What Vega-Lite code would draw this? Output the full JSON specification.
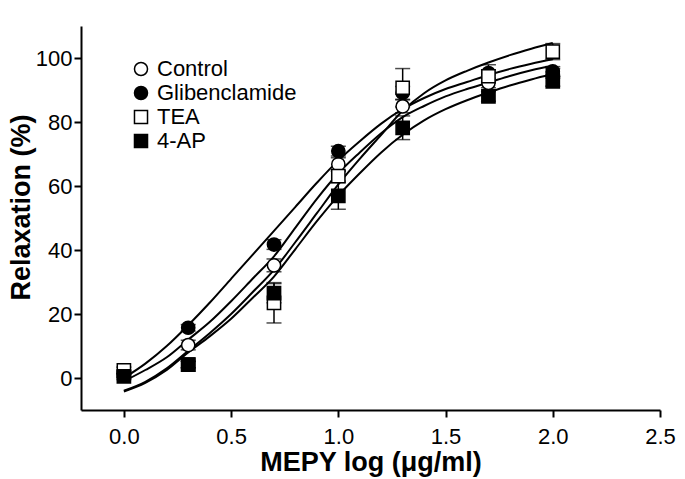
{
  "$schema": "https://vega.github.io/schema/vega-lite/v6.json",
  "width": 579,
  "height": 384,
  "autosize": "none",
  "padding": {"left": 81, "top": 26, "right": 25, "bottom": 69},
  "background": "white",
  "config": {
    "view": {"stroke": null},
    "font": "Liberation Sans",
    "axis": {
      "grid": false,
      "domainColor": "black",
      "domainWidth": 2,
      "tickColor": "black",
      "tickWidth": 2,
      "tickSize": 7,
      "labelFont": "Liberation Sans",
      "labelFontSize": 22,
      "labelColor": "black",
      "labelFlush": false,
      "labelOverlap": false,
      "titleFont": "Liberation Sans",
      "titleFontSize": 27,
      "titleFontWeight": "bold",
      "titleColor": "black"
    },
    "legend": {
      "orient": "none",
      "legendX": 49,
      "legendY": 32,
      "padding": 0,
      "labelFont": "Liberation Sans",
      "labelFontSize": 22,
      "labelColor": "black",
      "labelOffset": 5,
      "rowPadding": 2,
      "symbolStrokeWidth": 1.5,
      "symbolSize": 170
    }
  },
  "datasets": {
    "curves": [
      {"group": "Glibenclamide", "x": 0.0, "y": 0},
      {"group": "Glibenclamide", "x": 0.1, "y": 4.5},
      {"group": "Glibenclamide", "x": 0.2, "y": 10},
      {"group": "Glibenclamide", "x": 0.3, "y": 16.5},
      {"group": "Glibenclamide", "x": 0.4, "y": 23.5},
      {"group": "Glibenclamide", "x": 0.5, "y": 31},
      {"group": "Glibenclamide", "x": 0.6, "y": 38.5},
      {"group": "Glibenclamide", "x": 0.7, "y": 46},
      {"group": "Glibenclamide", "x": 0.8, "y": 53.5},
      {"group": "Glibenclamide", "x": 0.9, "y": 61},
      {"group": "Glibenclamide", "x": 1.0, "y": 68},
      {"group": "Glibenclamide", "x": 1.1, "y": 74},
      {"group": "Glibenclamide", "x": 1.2, "y": 79.5},
      {"group": "Glibenclamide", "x": 1.3, "y": 84},
      {"group": "Glibenclamide", "x": 1.4, "y": 87.5},
      {"group": "Glibenclamide", "x": 1.5, "y": 90.3},
      {"group": "Glibenclamide", "x": 1.6, "y": 92.5},
      {"group": "Glibenclamide", "x": 1.7, "y": 94.7},
      {"group": "Glibenclamide", "x": 1.8, "y": 96.6},
      {"group": "Glibenclamide", "x": 1.9, "y": 98.2},
      {"group": "Glibenclamide", "x": 2.0, "y": 99.6},
      {"group": "Control", "x": 0.0, "y": -1},
      {"group": "Control", "x": 0.1, "y": 2.5},
      {"group": "Control", "x": 0.2, "y": 6.5},
      {"group": "Control", "x": 0.3, "y": 12},
      {"group": "Control", "x": 0.4, "y": 17.5},
      {"group": "Control", "x": 0.5, "y": 24},
      {"group": "Control", "x": 0.6, "y": 31},
      {"group": "Control", "x": 0.7, "y": 38},
      {"group": "Control", "x": 0.8, "y": 47},
      {"group": "Control", "x": 0.9, "y": 56},
      {"group": "Control", "x": 1.0, "y": 64},
      {"group": "Control", "x": 1.1, "y": 70.5},
      {"group": "Control", "x": 1.2, "y": 76.5},
      {"group": "Control", "x": 1.3, "y": 81.5},
      {"group": "Control", "x": 1.4, "y": 85},
      {"group": "Control", "x": 1.5, "y": 88},
      {"group": "Control", "x": 1.6, "y": 90.3},
      {"group": "Control", "x": 1.7, "y": 92.3},
      {"group": "Control", "x": 1.8, "y": 94.4},
      {"group": "Control", "x": 1.9, "y": 96.2},
      {"group": "Control", "x": 2.0, "y": 97.6},
      {"group": "TEA", "x": 0.0, "y": -4},
      {"group": "TEA", "x": 0.1, "y": -1.2},
      {"group": "TEA", "x": 0.2, "y": 3},
      {"group": "TEA", "x": 0.3, "y": 8.5},
      {"group": "TEA", "x": 0.4, "y": 14},
      {"group": "TEA", "x": 0.5, "y": 20},
      {"group": "TEA", "x": 0.6, "y": 26.8},
      {"group": "TEA", "x": 0.7, "y": 33.8},
      {"group": "TEA", "x": 0.8, "y": 42.5},
      {"group": "TEA", "x": 0.9, "y": 51.5},
      {"group": "TEA", "x": 1.0, "y": 60.5},
      {"group": "TEA", "x": 1.1, "y": 68.5},
      {"group": "TEA", "x": 1.2, "y": 76},
      {"group": "TEA", "x": 1.3, "y": 83.5},
      {"group": "TEA", "x": 1.4, "y": 89},
      {"group": "TEA", "x": 1.5, "y": 93},
      {"group": "TEA", "x": 1.6, "y": 96},
      {"group": "TEA", "x": 1.7, "y": 98.6},
      {"group": "TEA", "x": 1.8, "y": 100.9},
      {"group": "TEA", "x": 1.9, "y": 102.9},
      {"group": "TEA", "x": 2.0, "y": 104.7},
      {"group": "4-AP", "x": 0.0, "y": -4.2},
      {"group": "4-AP", "x": 0.1, "y": -1.5},
      {"group": "4-AP", "x": 0.2, "y": 2.5},
      {"group": "4-AP", "x": 0.3, "y": 8},
      {"group": "4-AP", "x": 0.4, "y": 13},
      {"group": "4-AP", "x": 0.5, "y": 18.5},
      {"group": "4-AP", "x": 0.6, "y": 25},
      {"group": "4-AP", "x": 0.7, "y": 31.7},
      {"group": "4-AP", "x": 0.8, "y": 40.3},
      {"group": "4-AP", "x": 0.9, "y": 49},
      {"group": "4-AP", "x": 1.0, "y": 57},
      {"group": "4-AP", "x": 1.1, "y": 64},
      {"group": "4-AP", "x": 1.2, "y": 70.5},
      {"group": "4-AP", "x": 1.3, "y": 76},
      {"group": "4-AP", "x": 1.4, "y": 80.5},
      {"group": "4-AP", "x": 1.5, "y": 84},
      {"group": "4-AP", "x": 1.6, "y": 86.8},
      {"group": "4-AP", "x": 1.7, "y": 89.2},
      {"group": "4-AP", "x": 1.8, "y": 91.4},
      {"group": "4-AP", "x": 1.9, "y": 93.3},
      {"group": "4-AP", "x": 2.0, "y": 95}
    ],
    "points": [
      {"group": "Control", "x": 0.0, "y": 1.0, "lo": 0.0, "hi": 2.0},
      {"group": "Control", "x": 0.3, "y": 10.3, "lo": 8.8, "hi": 11.8},
      {"group": "Control", "x": 0.7, "y": 35.2, "lo": 33.2, "hi": 37.2},
      {"group": "Control", "x": 1.0, "y": 66.8, "lo": 64.8, "hi": 68.8},
      {"group": "Control", "x": 1.3, "y": 84.9, "lo": 82.9, "hi": 86.9},
      {"group": "Control", "x": 1.7, "y": 92.2, "lo": 90.7, "hi": 93.7},
      {"group": "Control", "x": 2.0, "y": 95.2, "lo": 93.7, "hi": 96.7},
      {"group": "Glibenclamide", "x": 0.0, "y": 1.3, "lo": 0.3, "hi": 2.3},
      {"group": "Glibenclamide", "x": 0.3, "y": 15.7, "lo": 14.7, "hi": 16.7},
      {"group": "Glibenclamide", "x": 0.7, "y": 41.7, "lo": 40.2, "hi": 43.2},
      {"group": "Glibenclamide", "x": 1.0, "y": 70.9, "lo": 69.4, "hi": 72.4},
      {"group": "Glibenclamide", "x": 1.3, "y": 89.1, "lo": 87.1, "hi": 91.1},
      {"group": "Glibenclamide", "x": 1.7, "y": 95.3, "lo": 92.7, "hi": 97.9},
      {"group": "Glibenclamide", "x": 2.0, "y": 95.8, "lo": 94.3, "hi": 97.3},
      {"group": "TEA", "x": 0.0, "y": 2.4, "lo": 1.4, "hi": 3.4},
      {"group": "TEA", "x": 0.3, "y": 4.2, "lo": 3.2, "hi": 5.2},
      {"group": "TEA", "x": 0.7, "y": 23.5, "lo": 17.2, "hi": 29.8},
      {"group": "TEA", "x": 1.0, "y": 63.1, "lo": 61.6, "hi": 64.6},
      {"group": "TEA", "x": 1.3, "y": 90.7, "lo": 84.7, "hi": 96.7},
      {"group": "TEA", "x": 1.7, "y": 94.3, "lo": 92.3, "hi": 96.3},
      {"group": "TEA", "x": 2.0, "y": 102.0, "lo": 99.5, "hi": 104.5},
      {"group": "4-AP", "x": 0.0, "y": 0.5, "lo": -0.5, "hi": 1.5},
      {"group": "4-AP", "x": 0.3, "y": 4.2, "lo": 3.2, "hi": 5.2},
      {"group": "4-AP", "x": 0.7, "y": 26.5, "lo": 23.5, "hi": 29.5},
      {"group": "4-AP", "x": 1.0, "y": 56.9, "lo": 52.7, "hi": 61.1},
      {"group": "4-AP", "x": 1.3, "y": 78.2, "lo": 74.5, "hi": 81.9},
      {"group": "4-AP", "x": 1.7, "y": 88.0, "lo": 86.5, "hi": 89.5},
      {"group": "4-AP", "x": 2.0, "y": 92.7, "lo": 91.2, "hi": 94.2}
    ]
  },
  "layer": [
    {
      "data": {"name": "curves"},
      "mark": {"type": "line", "interpolate": "monotone", "color": "black", "strokeWidth": 2},
      "encoding": {
        "x": {
          "field": "x",
          "type": "quantitative",
          "scale": {"domain": [-0.2, 2.5], "nice": false, "zero": false},
          "axis": {
            "values": [0, 0.5, 1, 1.5, 2, 2.5],
            "format": ".1f",
            "title": "MEPY log (μg/ml)",
            "labelPadding": 9,
            "titleY": 60,
            "titleBaseline": "alphabetic"
          }
        },
        "y": {
          "field": "y",
          "type": "quantitative",
          "scale": {"domain": [-10, 110], "nice": false, "zero": false},
          "axis": {
            "values": [0, 20, 40, 60, 80, 100],
            "title": "Relaxation (%)",
            "labelPadding": 2,
            "titleX": -60,
            "titleY": 181,
            "titleAngle": 270,
            "titleBaseline": "middle",
            "titleAlign": "center"
          }
        },
        "detail": {"field": "group", "type": "nominal"}
      }
    },
    {
      "data": {"name": "points"},
      "mark": {
        "type": "errorbar",
        "ticks": {"size": 15, "color": "black", "thickness": 1.5},
        "rule": {"color": "black", "strokeWidth": 1.5}
      },
      "encoding": {
        "x": {"field": "x", "type": "quantitative", "title": "MEPY log (μg/ml)"},
        "y": {"field": "lo", "type": "quantitative", "title": "Relaxation (%)"},
        "y2": {"field": "hi"}
      }
    },
    {
      "data": {"name": "points"},
      "mark": {"type": "point", "filled": true, "strokeWidth": 1.5, "opacity": 1, "size": 175},
      "encoding": {
        "x": {"field": "x", "type": "quantitative", "title": "MEPY log (μg/ml)"},
        "y": {"field": "y", "type": "quantitative", "title": "Relaxation (%)"},
        "shape": {
          "field": "group",
          "type": "nominal",
          "scale": {"domain": ["Control", "Glibenclamide", "TEA", "4-AP"], "range": ["circle", "circle", "square", "square"]},
          "legend": {"title": null}
        },
        "fill": {
          "field": "group",
          "type": "nominal",
          "scale": {"domain": ["Control", "Glibenclamide", "TEA", "4-AP"], "range": ["white", "black", "white", "black"]},
          "legend": {"title": null}
        },
        "stroke": {
          "field": "group",
          "type": "nominal",
          "scale": {"domain": ["Control", "Glibenclamide", "TEA", "4-AP"], "range": ["black", "black", "black", "black"]},
          "legend": {"title": null}
        }
      }
    }
  ]
}
